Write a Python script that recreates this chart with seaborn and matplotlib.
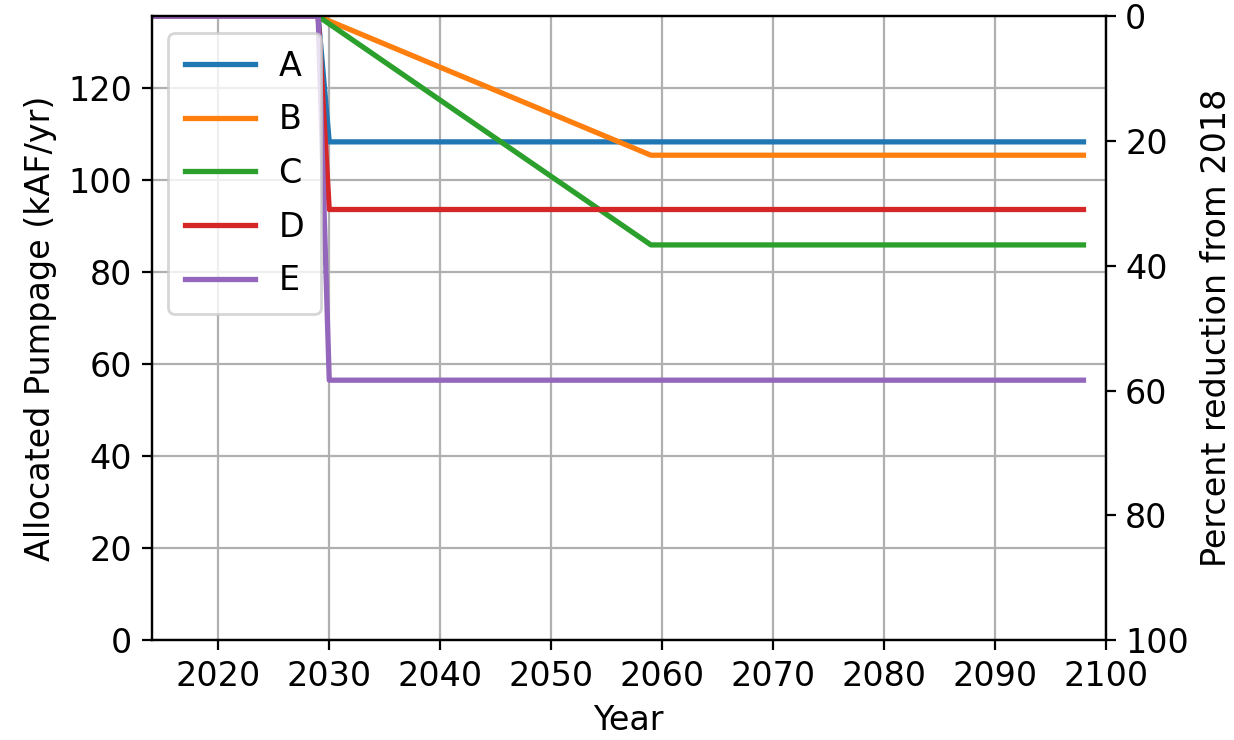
import numpy as np
import pandas as pd
import matplotlib
matplotlib.use("Agg")
import matplotlib.pyplot as plt
import seaborn as sns

# 2018 baseline pumpage (kAF/yr)
base = 135.6

# breakpoints
years_a = [2014, 2029, 2030, 2098]
vals_a = [135.6, 135.6, 108.3, 108.3]
years_b = [2014, 2029, 2059, 2098]
vals_b = [135.6, 135.6, 105.4, 105.4]
years_c = [2014, 2029, 2059, 2098]
vals_c = [135.6, 135.6, 85.9, 85.9]
years_d = [2014, 2029, 2030, 2098]
vals_d = [135.6, 135.6, 93.6, 93.6]
years_e = [2014, 2029, 2030, 2098]
vals_e = [135.6, 135.6, 56.5, 56.5]

frames = []
for name, yrs, vals in [("A", years_a, vals_a), ("B", years_b, vals_b),
                        ("C", years_c, vals_c), ("D", years_d, vals_d),
                        ("E", years_e, vals_e)]:
    frames.append(pd.DataFrame({"Year": yrs, "Pumpage": vals, "Scenario": name}))
df = pd.concat(frames, ignore_index=True)

plt.rcParams["font.family"] = ["DejaVu Sans"]
plt.rcParams["font.size"] = 12

fig, ax = plt.subplots(figsize=(6.17, 3.70), dpi=200)
fig.subplots_adjust(left=0.123, right=0.896, top=0.978, bottom=0.135)

sns.lineplot(data=df, x="Year", y="Pumpage", hue="Scenario",
             palette="tab10", linewidth=1.9, ax=ax, sort=False)

ax.set_xlim(2014, 2100)
ax.set_ylim(0, base)
ax.set_xticks(np.arange(2020, 2101, 10))
ax.set_yticks(np.arange(0, 121, 20))
ax.grid(True, color="#b0b0b0", linewidth=0.8)
ax.set_xlabel("Year")
ax.set_ylabel("Allocated Pumpage (kAF/yr)")

ax.legend(loc="upper left", handlelength=2.1, handletextpad=0.7,
          labelspacing=0.62, borderpad=0.5, title=None)

ax2 = ax.twinx()
ax2.set_ylim(100, 0)
ax2.set_yticks(np.arange(0, 101, 20))
ax2.set_ylabel("Percent reduction from 2018")

fig.savefig("out.png", dpi=200)
